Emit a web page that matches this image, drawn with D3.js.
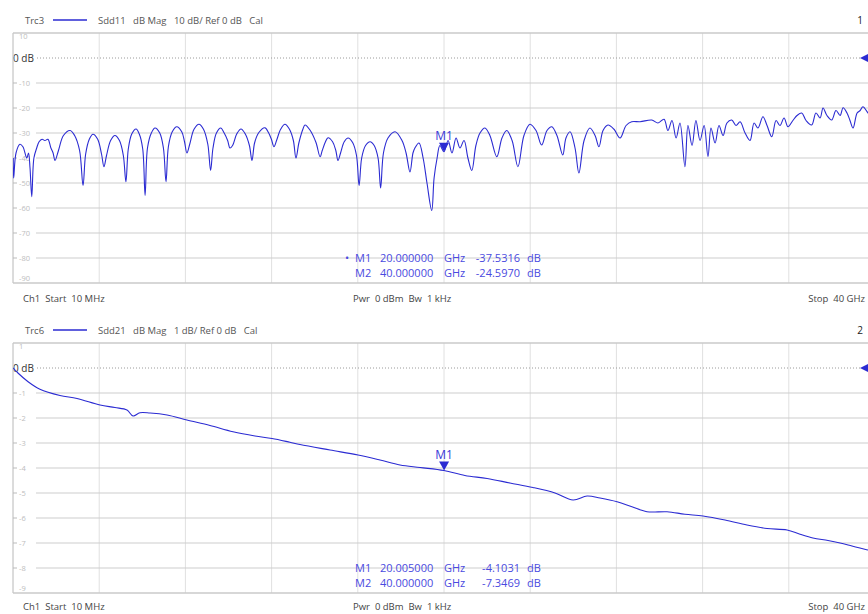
<!DOCTYPE html>
<html>
<head>
<meta charset="utf-8">
<script src="https://cdn.jsdelivr.net/npm/d3@7"></script>
<style>
  body { margin: 0; background: #fff; }
  svg { display: block; font-family: "Open Sans", sans-serif; }
</style>
</head>
<body>
<svg id="chart" width="868" height="614"></svg>
<script>
// Sdd11 trace: [GHz, dB]
const sdd11Trace = [
  [0.01,-40],[0.03,-48],[0.14,-38],[0.32,-34.5],[0.46,-35.5],[0.64,-40],[0.72,-38],[0.79,-44],[0.87,-55.5],
  [0.97,-40],[1.10,-36],[1.21,-33.5],[1.35,-32.5],[1.48,-33],[1.62,-32.5],[1.76,-36],[1.86,-38],[1.95,-41],
  [2.11,-37],[2.34,-31],[2.65,-29],[2.86,-31],[3.09,-37],[3.25,-51],
  [3.37,-38.5],[3.54,-32.5],[3.71,-30.5],[3.93,-32.5],[4.11,-38.5],[4.22,-43.5],
  [4.34,-39],[4.53,-33],[4.73,-31],[4.94,-33],[5.12,-39],[5.24,-49.5],
  [5.35,-36.4],[5.51,-30.4],[5.71,-28.4],[5.86,-30.4],[6.02,-36.4],[6.13,-55],
  [6.24,-36],[6.42,-30],[6.59,-28],[6.81,-30],[6.98,-36],[7.10,-49.5],
  [7.21,-35.5],[7.39,-29.5],[7.60,-27.5],[7.83,-29.5],[7.96,-33.5],[8.07,-38],
  [8.20,-34.5],[8.40,-28.5],[8.63,-26.5],[8.84,-28.5],[9.04,-34.5],[9.17,-45],
  [9.28,-36],[9.44,-30],[9.64,-28],[9.80,-30],[9.96,-33],[10.07,-36],
  [10.19,-35],[10.38,-30.4],[10.58,-28.4],[10.78,-30.4],[10.97,-35],[11.09,-41],
  [11.21,-34],[11.40,-29.9],[11.69,-27.9],[11.86,-29.9],[11.99,-32.5],[12.11,-35.5],
  [12.23,-33],[12.42,-28.5],[12.62,-26.5],[12.83,-28.5],[13.01,-33],[13.13,-40],
  [13.27,-33.8],[13.46,-28.3],[13.55,-26.8],[13.78,-28.8],[14.06,-33.8],[14.25,-39.5],
  [14.35,-37],[14.50,-33.5],[14.62,-31.9],[14.83,-33.5],[14.98,-37],[15.08,-41],
  [15.20,-38],[15.37,-33.5],[15.55,-32],[15.76,-33.8],[15.94,-39],[16.06,-51],
  [16.18,-40],[16.36,-35],[16.57,-33.5],[16.76,-35],[16.94,-40],[17.06,-52],
  [17.19,-38],[17.40,-32],[17.73,-29.5],[18.05,-33],[18.24,-38],[18.42,-45.6],[18.56,-38],[18.65,-36],
  [18.84,-34],[19.03,-40],[19.21,-50],[19.43,-61],[19.54,-48],[19.68,-40],[19.81,-35],[20.00,-37.5],
  [20.19,-33],[20.37,-38],[20.56,-32],[20.74,-36],[20.93,-33],[21.11,-40],[21.29,-45],[21.48,-35],
  [21.67,-30],[21.90,-28],[22.13,-31],[22.45,-39.5],[22.69,-32],[22.91,-29],[23.16,-33],[23.43,-43.5],
  [23.71,-31],[23.99,-26.5],[24.27,-29],[24.53,-34.8],[24.78,-29],[25.00,-27.5],[25.24,-31],[25.51,-38.8],
  [25.66,-32],[25.85,-29.5],[26.08,-36],[26.26,-46],[26.50,-33],[26.77,-28],[27.01,-31],[27.19,-35.5],
  [27.38,-29],[27.61,-26.8],[27.89,-28.5],[28.17,-32],[28.45,-27],[28.71,-25.5],[29.10,-25.5],[29.64,-24.8],
  [29.93,-26],[30.21,-24.5],[30.39,-29],[30.58,-25],[30.77,-32],[30.95,-26],[31.18,-43.5],[31.32,-27],
  [31.51,-35],[31.69,-25],[31.88,-33],[32.07,-27],[32.25,-39.5],[32.39,-28],[32.58,-34],[32.76,-27],
  [32.95,-31],[33.13,-26],[33.35,-24.8],[33.55,-27],[33.74,-25.5],[33.97,-30],[34.20,-33],[34.39,-26],
  [34.57,-28],[34.80,-23.5],[34.99,-27],[35.21,-31.5],[35.41,-25],[35.59,-27],[35.78,-24],[35.96,-27.5],
  [36.19,-25],[36.38,-23],[36.60,-22],[36.80,-25],[37.06,-26.8],[37.26,-22],[37.45,-24],[37.59,-20],
  [37.77,-23],[37.99,-24.8],[38.19,-21],[38.38,-23],[38.52,-19.9],[38.70,-22],[38.84,-25],[38.98,-28],
  [39.17,-22],[39.31,-21],[39.44,-19.5],[39.68,-22],[40.00,-24.6]
];

// Sdd21 trace: [GHz, dB]
const sdd21Trace = [
  [0.01,0],[0.23,-0.2],[0.70,-0.55],[1.25,-0.85],[2.18,-1.1],[2.97,-1.22],[4.04,-1.48],[4.73,-1.58],
  [5.29,-1.68],[5.57,-1.92],[5.89,-1.79],[6.36,-1.8],[7.15,-1.88],[8.07,-2.08],[9.14,-2.3],[10.21,-2.55],
  [11.23,-2.72],[12.02,-2.82],[12.85,-2.97],[13.32,-3.06],[14.71,-3.28],[16.01,-3.48],[17.03,-3.68],
  [17.96,-3.88],[18.89,-3.98],[20.00,-4.1],[20.97,-4.3],[22.00,-4.42],[23.06,-4.6],[24.13,-4.78],
  [25.15,-5.0],[25.99,-5.28],[26.64,-5.12],[27.24,-5.2],[28.03,-5.35],[28.72,-5.55],[29.42,-5.75],
  [30.35,-5.75],[31.18,-5.85],[32.02,-5.92],[33.04,-6.08],[34.06,-6.28],[34.99,-6.42],[35.92,-6.48],
  [36.52,-6.65],[37.12,-6.8],[37.82,-6.9],[38.38,-7.0],[38.93,-7.12],[39.30,-7.2],[40.00,-7.35]
];

const freqGrid = [0, 4, 8, 12, 16, 20, 24, 28, 32, 36, 40];
const sdd11Ticks = [10, 0, -10, -20, -30, -40, -50, -60, -70, -80, -90];
const sdd21Ticks = [1, 0, -1, -2, -3, -4, -5, -6, -7, -8, -9];

const sdd11Marker = { name: "M1", ghz: 20.0, db: -37.5316 };
const sdd21Marker = { name: "M1", ghz: 20.005, db: -4.1031 };
const sdd11Readout = [["\u2022", "M1", "20.000000", "-37.5316"], ["", "M2", "40.000000", "-24.5970"]];
const sdd21Readout = [["", "M1", "20.005000", "-4.1031"], ["", "M2", "40.000000", "-7.3469"]];

const svg = d3.select("#chart");
const blue = "#2b2bd2";

function drawPanel(svg, cfg) {
  const g = svg.append("g").attr("transform", `translate(0,${cfg.offset})`);
  const top = 33, bottom = 283, left = 13, right = 875;

  const x = d3.scaleLinear().domain([0, 40]).range([left, right]);
  const y = d3.scaleLinear().domain([cfg.ticks[0], cfg.ticks[cfg.ticks.length - 1]]).range([top, bottom]);

  // header
  g.append("text").attr("x", 25).attr("y", 24).attr("font-size", "9.5px").attr("fill", "#555").text(cfg.trc);
  g.append("line").attr("x1", 53).attr("x2", 87).attr("y1", 20).attr("y2", 20)
    .attr("stroke", blue).attr("stroke-width", 1.4);
  g.append("text").attr("x", 98).attr("y", 24).attr("font-size", "9.5px").attr("fill", "#555")
    .attr("xml:space", "preserve").text(cfg.title);
  g.append("text").attr("x", 863).attr("y", 24).attr("font-size", "10px").attr("fill", "#222")
    .attr("text-anchor", "end").text(cfg.num);

  // grid
  g.selectAll(".vgrid").data(freqGrid).enter().append("line")
    .attr("x1", d => x(d)).attr("x2", d => x(d)).attr("y1", top).attr("y2", bottom)
    .attr("stroke", "#e0e0e0").attr("stroke-width", 1);
  g.selectAll(".hgrid").data(cfg.ticks.filter(d => d !== 0)).enter().append("line")
    .attr("x1", left).attr("x2", right).attr("y1", d => y(d)).attr("y2", d => y(d))
    .attr("stroke", "#cdcdcd").attr("stroke-width", 1);
  g.append("line").attr("x1", left).attr("x2", right).attr("y1", y(0)).attr("y2", y(0))
    .attr("stroke", "#9a9a9a").attr("stroke-dasharray", "1,2");

  // y labels
  cfg.ticks.forEach((t, i) => {
    if (t === 0) {
      g.append("rect").attr("x", left + 1).attr("y", y(0) - 6).attr("width", 22).attr("height", 11).attr("fill", "#fff");
      g.append("text").attr("x", left).attr("y", y(0) + 4).attr("font-size", "10px").attr("fill", "#333").text("0 dB");
      return;
    }
    const ty = i === 0 ? y(t) + 6 : (i === cfg.ticks.length - 1 ? y(t) - 2 : y(t) + 3);
    if (i > 0 && i < cfg.ticks.length - 1) {
      g.append("rect").attr("x", left + 1).attr("y", y(t) - 4).attr("width", 22).attr("height", 8).attr("fill", "#fff");
      g.append("line").attr("x1", left).attr("x2", left + 4).attr("y1", y(t)).attr("y2", y(t)).attr("stroke", "#bbb");
    }
    g.append("text").attr("x", left + 6).attr("y", ty).attr("font-size", "7.5px").attr("fill", "#bdbdbd").text(t);
  });

  // frame
  g.append("line").attr("x1", left).attr("x2", right).attr("y1", top).attr("y2", top).attr("stroke", "#c8c8c8");
  g.append("line").attr("x1", left).attr("x2", right).attr("y1", bottom).attr("y2", bottom).attr("stroke", "#c8c8c8");
  g.append("line").attr("x1", left).attr("x2", left).attr("y1", top).attr("y2", bottom).attr("stroke", "#c8c8c8");

  // readout
  const cols = [349, 355, 380];
  cfg.readout.forEach((row, i) => {
    const by = 262 + i * 15;
    const txt = (xx, s, anchor) => g.append("text").attr("x", xx).attr("y", by).attr("font-size", "11px")
      .attr("fill", "#4a4ae0").attr("text-anchor", anchor || "start").text(s);
    txt(cols[0] - 4, row[0]);
    txt(cols[1], row[1]);
    txt(cols[2], row[2]);
    txt(444, "GHz");
    txt(520, row[3], "end");
    txt(527, "dB");
  });

  // trace
  const clipId = "clip" + cfg.num;
  g.append("clipPath").attr("id", clipId).append("rect")
    .attr("x", left).attr("y", top - 2).attr("width", 868 - left).attr("height", bottom - top + 4);
  const line = d3.line().x(d => x(d[0])).y(d => y(d[1])).curve(d3.curveCatmullRom.alpha(0.5));
  g.append("path").datum(cfg.trace).attr("d", line).attr("clip-path", `url(#${clipId})`)
    .attr("fill", "none").attr("stroke", blue).attr("stroke-width", 1.1).attr("stroke-linejoin", "round");

  // marker
  const mx = x(cfg.marker.ghz), my = y(cfg.marker.db);
  g.append("path").attr("d", `M${mx - 5},${my - 9}L${mx + 5},${my - 9}L${mx},${my}Z`).attr("fill", blue);
  g.append("text").attr("x", mx).attr("y", my - 12).attr("text-anchor", "middle").attr("font-size", "12px")
    .attr("fill", "#3a3ad8").text(cfg.marker.name);

  // reference arrow
  g.append("path").attr("d", `M${860},${y(0)}L${868},${y(0) - 4}L${868},${y(0) + 4}Z`).attr("fill", blue);

  // footer
  const fy = cfg.footerY;
  g.append("text").attr("x", 23).attr("y", fy).attr("font-size", "9.5px").attr("fill", "#444")
    .attr("xml:space", "preserve").text("Ch1  Start  10 MHz");
  g.append("text").attr("x", 353).attr("y", fy).attr("font-size", "9.5px").attr("fill", "#444")
    .attr("xml:space", "preserve").text("Pwr  0 dBm  Bw  1 kHz");
  g.append("text").attr("x", 865).attr("y", fy).attr("font-size", "9.5px").attr("fill", "#444")
    .attr("text-anchor", "end").attr("xml:space", "preserve").text("Stop  40 GHz");
}

drawPanel(svg, {
  offset: 0, trc: "Trc3", title: "Sdd11   dB Mag   10 dB/ Ref 0 dB   Cal", num: "1", footerY: 302,
  ticks: sdd11Ticks, trace: sdd11Trace, marker: sdd11Marker, readout: sdd11Readout
});
drawPanel(svg, {
  offset: 310, trc: "Trc6", title: "Sdd21   dB Mag   1 dB/ Ref 0 dB   Cal", num: "2", footerY: 300,
  ticks: sdd21Ticks, trace: sdd21Trace, marker: sdd21Marker, readout: sdd21Readout
});
</script>
</body>
</html>
